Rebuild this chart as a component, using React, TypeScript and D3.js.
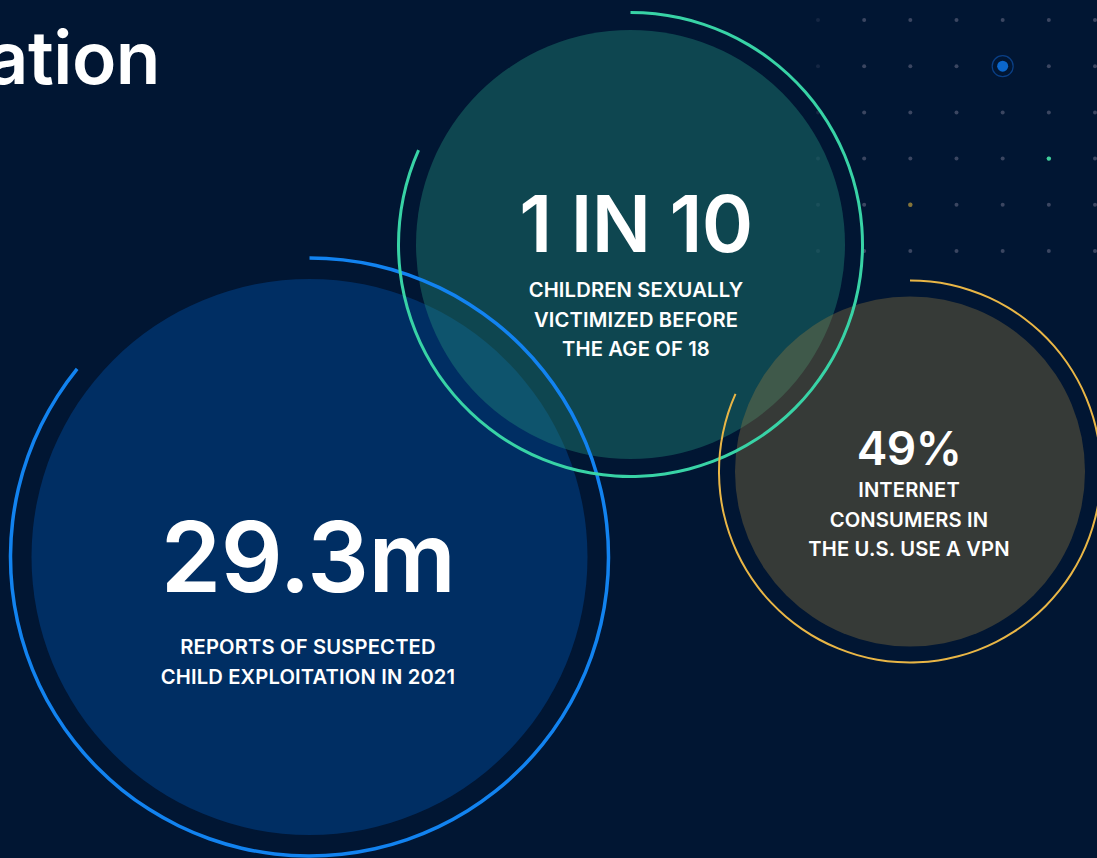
import React from "react";
import * as d3 from "d3";

// ---- data ----
const statValues: string[] = ["29.3m", "1 IN 10", "49%"];
const statLabels: string[][] = [
  ["REPORTS OF SUSPECTED", "CHILD EXPLOITATION IN 2021"],
  ["CHILDREN SEXUALLY", "VICTIMIZED BEFORE", "THE AGE OF 18"],
  ["INTERNET", "CONSUMERS IN", "THE U.S. USE A VPN"],
];
const titleText = "Exploitation";
const gridCols: number[] = d3.range(7);
const gridRows: number[] = d3.range(6);

// ---- layout / style ----
const W = 1097;
const H = 858;
const BG = "#011633";

type Bubble = {
  cx: number; cy: number; r: number; ringR: number; ringW: number;
  sweep: number; fill: string; fillOpacity: number; ring: string;
  valueSize: number; valueY: number; labelY: number; textX: number; labelGap: number;
};

const bubbles: Bubble[] = [
  { cx: 309.5, cy: 557, r: 278, ringR: 299, ringW: 3.5, sweep: 309, fill: "#002e63", fillOpacity: 1, ring: "#1283f0",
    valueSize: 97, valueY: 592, labelY: 654, textX: 308, labelGap: 29.5 },
  { cx: 630.5, cy: 244.5, r: 214.5, ringR: 232, ringW: 3, sweep: 294, fill: "#238e7e", fillOpacity: 0.4, ring: "url(#tealGrad)",
    valueSize: 78, valueY: 252, labelY: 297, textX: 636, labelGap: 29.5 },
  { cx: 910, cy: 471.5, r: 175, ringR: 191, ringW: 2, sweep: 294, fill: "#9a7d3f", fillOpacity: 0.35, ring: "#e9b646",
    valueSize: 46, valueY: 465, labelY: 497, textX: 909, labelGap: 29.5 },
];

const FONT = "Inter, 'DejaVu Sans', sans-serif";

export default function App() {
  const xGrid = d3.scaleLinear().domain([0, 6]).range([818, 1095]);
  const yGrid = d3.scaleLinear().domain([0, 5]).range([20, 251]);
  const rad = (deg: number) => (deg * Math.PI) / 180;

  const ringPath = (b: Bubble) =>
    d3.arc()({
      innerRadius: b.ringR - b.ringW / 2,
      outerRadius: b.ringR + b.ringW / 2,
      startAngle: 0,
      endAngle: rad(b.sweep),
      cornerRadius: b.ringW / 2,
    } as any) as string;

  return (
    <svg
      width={W}
      height={H}
      style={{ position: "absolute", left: 0, top: 0, display: "block" }}
      fontFamily={FONT}
    >
      <defs>
        <linearGradient id="tealGrad" gradientUnits="userSpaceOnUse" x1={420} y1={40} x2={760} y2={450}>
          <stop offset="0" stopColor="#38d3a6" />
          <stop offset="0.6" stopColor="#40d39c" />
          <stop offset="1" stopColor="#62cf7e" />
        </linearGradient>
      </defs>
      <rect x={0} y={0} width={W} height={H} fill={BG} />

      {/* dot grid */}
      <g>
        {gridRows.map((r) =>
          gridCols.map((c) => (
            <circle
              key={`d${r}-${c}`}
              cx={xGrid(c)}
              cy={yGrid(r)}
              r={2}
              fill="#3b4661"
              opacity={c === 0 ? 0.35 : 1}
            />
          ))
        )}
        <circle cx={xGrid(4)} cy={yGrid(1)} r={10.5} fill="none" stroke="#0a3f85" strokeWidth={1.2} />
        <circle cx={xGrid(4)} cy={yGrid(1)} r={5.5} fill="#0b67cc" />
        <circle cx={xGrid(5)} cy={yGrid(3)} r={2.2} fill="#3ecf9a" />
        <circle cx={xGrid(2)} cy={yGrid(4)} r={2.2} fill="#857437" />
      </g>

      {/* title */}
      <text x={160} y={84} textAnchor="end" fill="#ffffff" fontSize={73} fontWeight={600} letterSpacing={-0.5}>
        {titleText}
      </text>

      {/* fills */}
      {bubbles.map((b, i) => (
        <circle key={`f${i}`} cx={b.cx} cy={b.cy} r={b.r} fill={b.fill} fillOpacity={b.fillOpacity} />
      ))}

      {/* rings */}
      {bubbles.map((b, i) => (
        <path key={`r${i}`} transform={`translate(${b.cx},${b.cy})`} d={ringPath(b)} fill={b.ring} />
      ))}

      {/* texts */}
      {bubbles.map((b, i) => (
        <g key={`t${i}`} fill="#ffffff" textAnchor="middle">
          <text x={b.textX} y={b.valueY} fontSize={b.valueSize} fontWeight={600} letterSpacing={-0.6}>
            {statValues[i]}
          </text>
          {statLabels[i].map((line, j) => (
            <text key={j} x={b.textX} y={b.labelY + j * b.labelGap} fontSize={20.2} fontWeight={600} letterSpacing={0.15}>
              {line}
            </text>
          ))}
        </g>
      ))}
    </svg>
  );
}
